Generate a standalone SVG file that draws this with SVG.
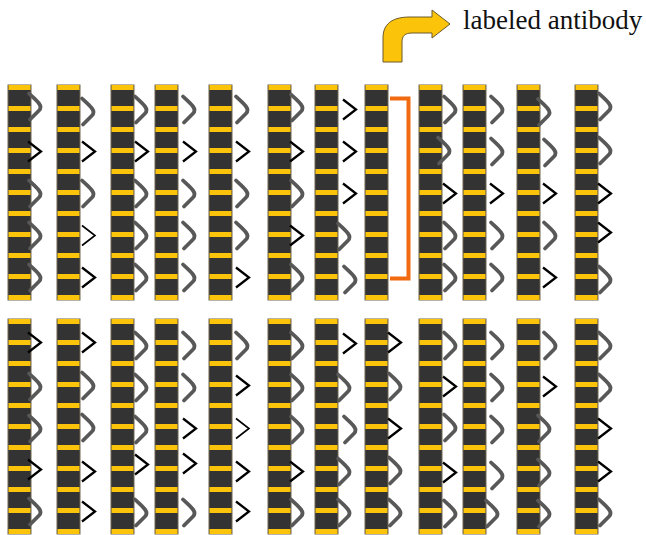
<svg xmlns="http://www.w3.org/2000/svg" xmlns:xlink="http://www.w3.org/1999/xlink" width="646" height="535" viewBox="0 0 646 535">
  <style>
    .body { fill: #333333; stroke: #6e6652; stroke-width: 1; }
    .band { fill: #fcc30b; }
    .arc { fill: none; stroke: #585858; stroke-width: 3.8; stroke-linecap: round; stroke-linejoin: round; }
    .chev { fill: none; stroke: #000000; stroke-width: 2.3; }
    .chev.thin { stroke-width: 1.6; }
    .bracket { fill: none; stroke: #f26a10; stroke-width: 4; }
    .label { font-family: "Liberation Serif", "Times New Roman", serif; font-size: 27px; fill: #111111; }
  </style>
  <defs>
    <!-- one strip: dark body with 11 yellow bands, 21px apart -->
    <g id="strip">
      <rect class="body" x="0" y="0" width="23" height="215"/>
      <rect class="band" x="0.5" y="0" width="22" height="5"/>
      <rect class="band" x="0.5" y="21" width="22" height="5"/>
      <rect class="band" x="0.5" y="42" width="22" height="5"/>
      <rect class="band" x="0.5" y="63" width="22" height="5"/>
      <rect class="band" x="0.5" y="84" width="22" height="5"/>
      <rect class="band" x="0.5" y="105" width="22" height="5"/>
      <rect class="band" x="0.5" y="126" width="22" height="5"/>
      <rect class="band" x="0.5" y="147" width="22" height="5"/>
      <rect class="band" x="0.5" y="168" width="22" height="5"/>
      <rect class="band" x="0.5" y="189" width="22" height="5"/>
      <rect class="band" x="0.5" y="210" width="22" height="5"/>
    </g>
    <!-- curved (grey) antibody and angular (black, labeled) antibody -->
    <path id="g" class="arc" d="M1,-13 C3,-11 8,-7 11,-3 Q14,1 11,4 L2,13"/>
    <path id="b" class="chev" d="M0,-10 L13,0 L0,10"/>
    <path id="bt" class="chev thin" d="M0,-10 L13,0 L0,10"/>
  </defs>

  <rect x="0" y="0" width="646" height="535" fill="#ffffff"/>

  <!-- legend -->
  <g id="legend">
    <path d="M383,62 V38 C383,24 392,17 410,17 H432 V10 L450,24 L432,38 V33 H412 C405,33 402,36 402,42 V62 Z" fill="#fcc30b" stroke="#6b5a2a" stroke-width="1"/>
    <text class="label" x="463" y="29">labeled antibody</text>
  </g>

  <!-- upper row -->
  <g id="top-1"><use href="#strip" x="8" y="85"/>
    <use href="#g" x="28" y="106.5"/><use href="#b" x="28" y="151.5"/><use href="#g" x="28" y="193.5"/><use href="#g" x="28" y="235.5"/><use href="#g" x="28" y="277.5"/></g>
  <g id="top-2"><use href="#strip" x="57" y="85"/>
    <use href="#g" x="81" y="111.5"/><use href="#b" x="82" y="151.5"/><use href="#g" x="81" y="193.5"/><use href="#bt" x="82" y="235.5"/><use href="#b" x="82" y="277.5"/></g>
  <g id="top-3"><use href="#strip" x="111" y="85"/>
    <use href="#g" x="134" y="109.5"/><use href="#b" x="135" y="151.5"/><use href="#g" x="134" y="193.5"/><use href="#g" x="134" y="235.5"/><use href="#g" x="134" y="277.5"/></g>
  <g id="top-4"><use href="#strip" x="155" y="85"/>
    <use href="#g" x="182" y="109.5"/><use href="#b" x="183" y="151.5"/><use href="#g" x="182" y="193.5"/><use href="#g" x="182" y="235.5"/><use href="#g" x="182" y="277.5"/></g>
  <g id="top-5"><use href="#strip" x="209" y="85"/>
    <use href="#g" x="235" y="109.5"/><use href="#b" x="236" y="151.5"/><use href="#g" x="235" y="193.5"/><use href="#g" x="235" y="235.5"/><use href="#b" x="236" y="277.5"/></g>
  <g id="top-6"><use href="#strip" x="268" y="85"/>
    <use href="#g" x="290" y="107.5"/><use href="#b" x="290" y="151.5"/><use href="#g" x="290" y="193.5"/><use href="#b" x="290" y="235.5"/><use href="#g" x="290" y="277.5"/></g>
  <g id="top-7"><use href="#strip" x="315" y="85"/>
    <use href="#b" x="343" y="109.5"/><use href="#b" x="343" y="151.5"/><use href="#b" x="343" y="193.5"/><use href="#g" x="337" y="236.5"/><use href="#g" x="343" y="279.5"/></g>
  <g id="top-8"><use href="#strip" x="365" y="85"/></g>
  <g id="top-9"><use href="#strip" x="419" y="85"/>
    <use href="#g" x="443" y="109.5"/><use href="#g" x="437" y="150.5"/><use href="#b" x="443" y="193.5"/><use href="#g" x="443" y="235.5"/><use href="#g" x="443" y="277.5"/></g>
  <g id="top-10"><use href="#strip" x="463" y="85"/>
    <use href="#g" x="490" y="109.5"/><use href="#g" x="490" y="151.5"/><use href="#b" x="490" y="193.5"/><use href="#g" x="490" y="235.5"/><use href="#g" x="490" y="277.5"/></g>
  <g id="top-11"><use href="#strip" x="517" y="85"/>
    <use href="#g" x="537" y="112"/><use href="#g" x="543" y="152.5"/><use href="#b" x="543" y="193.5"/><use href="#g" x="543" y="235.5"/><use href="#b" x="543" y="277.5"/></g>
  <g id="top-12"><use href="#strip" x="575" y="85"/>
    <use href="#g" x="598" y="106.5"/><use href="#g" x="598" y="150.5"/><use href="#b" x="598" y="193.5"/><use href="#b" x="598" y="232.5"/><use href="#g" x="598" y="279.5"/></g>

  <!-- bracket marking the empty strip -->
  <path class="bracket" d="M390,98.5 H408.5 V278.5 H390"/>

  <!-- lower row -->
  <g id="bottom-1"><use href="#strip" x="8" y="319"/>
    <use href="#b" x="28" y="342.5"/><use href="#g" x="28" y="386.5"/><use href="#g" x="28" y="428.5"/><use href="#b" x="28" y="469.5"/><use href="#g" x="28" y="511.5"/></g>
  <g id="bottom-2"><use href="#strip" x="57" y="319"/>
    <use href="#b" x="82" y="342.5"/><use href="#g" x="81" y="385.5"/><use href="#g" x="81" y="427.5"/><use href="#b" x="82" y="471.5"/><use href="#b" x="82" y="511.5"/></g>
  <g id="bottom-3"><use href="#strip" x="111" y="319"/>
    <use href="#g" x="134" y="345.5"/><use href="#g" x="134" y="387.5"/><use href="#g" x="134" y="429.5"/><use href="#b" x="135" y="464.5"/><use href="#g" x="134" y="512.5"/></g>
  <g id="bottom-4"><use href="#strip" x="155" y="319"/>
    <use href="#g" x="182" y="345.5"/><use href="#g" x="182" y="387.5"/><use href="#b" x="183" y="428.5"/><use href="#b" x="183" y="463.5"/><use href="#g" x="182" y="512.5"/></g>
  <g id="bottom-5"><use href="#strip" x="209" y="319"/>
    <use href="#g" x="235" y="345.5"/><use href="#b" x="236" y="385.5"/><use href="#bt" x="236" y="428.5"/><use href="#b" x="236" y="471.5"/><use href="#b" x="236" y="511.5"/></g>
  <g id="bottom-6"><use href="#strip" x="268" y="319"/>
    <use href="#g" x="290" y="345.5"/><use href="#g" x="290" y="387.5"/><use href="#g" x="290" y="429.5"/><use href="#b" x="290" y="471.5"/><use href="#g" x="290" y="512.5"/></g>
  <g id="bottom-7"><use href="#strip" x="315" y="319"/>
    <use href="#b" x="343" y="343.5"/><use href="#g" x="337" y="387.5"/><use href="#g" x="343" y="429.5"/><use href="#g" x="337" y="471.5"/><use href="#g" x="337" y="512.5"/></g>
  <g id="bottom-8"><use href="#strip" x="365" y="319"/>
    <use href="#b" x="388" y="342.5"/><use href="#g" x="388" y="386.5"/><use href="#b" x="388" y="428.5"/><use href="#g" x="388" y="470.5"/><use href="#g" x="388" y="512.5"/></g>
  <g id="bottom-9"><use href="#strip" x="419" y="319"/>
    <use href="#g" x="443" y="345.5"/><use href="#b" x="443" y="386.5"/><use href="#g" x="443" y="427.5"/><use href="#b" x="443" y="472.5"/><use href="#g" x="443" y="513.5"/></g>
  <g id="bottom-10"><use href="#strip" x="463" y="319"/>
    <use href="#g" x="490" y="345.5"/><use href="#g" x="490" y="387.5"/><use href="#g" x="490" y="429.5"/><use href="#g" x="490" y="475.5"/><use href="#g" x="485" y="513.5"/></g>
  <g id="bottom-11"><use href="#strip" x="517" y="319"/>
    <use href="#g" x="543" y="345.5"/><use href="#b" x="543" y="386.5"/><use href="#g" x="537" y="428.5"/><use href="#g" x="537" y="472.5"/><use href="#g" x="537" y="513.5"/></g>
  <g id="bottom-12"><use href="#strip" x="575" y="319"/>
    <use href="#g" x="598" y="345.5"/><use href="#g" x="598" y="387.5"/><use href="#b" x="598" y="428.5"/><use href="#b" x="598" y="471.5"/><use href="#g" x="598" y="512.5"/></g>
</svg>
